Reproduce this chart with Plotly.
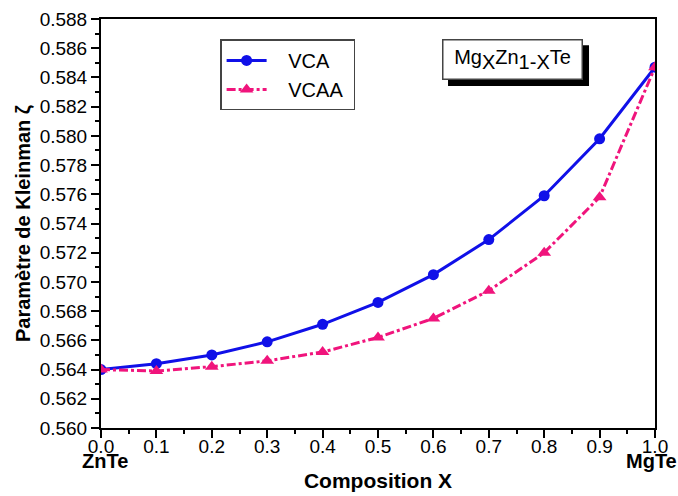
import plotly.graph_objects as go

# Composition x of Mg(x)Zn(1-x)Te and Kleinman internal-strain parameter
composition = [0.0, 0.1, 0.2, 0.3, 0.4, 0.5, 0.6, 0.7, 0.8, 0.9, 1.0]
zeta_vca = [0.5640, 0.5644, 0.5650, 0.5659, 0.5671, 0.5686, 0.5705, 0.5729, 0.5759, 0.5798, 0.5847]
zeta_vcaa = [0.5640, 0.5639, 0.5642, 0.5646, 0.5652, 0.5662, 0.5675, 0.5694, 0.5720, 0.5758, 0.5847]

x_ticks = [0.0, 0.1, 0.2, 0.3, 0.4, 0.5, 0.6, 0.7, 0.8, 0.9, 1.0]
y_ticks = [0.560, 0.562, 0.564, 0.566, 0.568, 0.570, 0.572, 0.574, 0.576,
           0.578, 0.580, 0.582, 0.584, 0.586, 0.588]

FONT = "Liberation Sans, Arial, sans-serif"
BLUE = "#1010e8"
PINK = "#f0147c"
PAD = "\u00a0\u00a0\u00a0"

fig = go.Figure()
fig.add_trace(go.Scatter(
    x=composition, y=zeta_vca, name=PAD + "VCA", mode="lines+markers",
    line=dict(color=BLUE, width=3),
    marker=dict(symbol="circle", size=11, color=BLUE),
))
fig.add_trace(go.Scatter(
    x=composition, y=zeta_vcaa, name=PAD + "VCAA\u00a0", mode="lines+markers",
    line=dict(color=PINK, width=3, dash="dashdot"),
    marker=dict(symbol="triangle-up", size=12, color=PINK),
))

axis_common = dict(
    showline=True, linecolor="black", linewidth=2, mirror=True,
    ticks="outside", ticklen=8, tickwidth=1.5, tickcolor="black",
    showgrid=False, zeroline=False, automargin=False,
    tickfont=dict(family=FONT, size=19, color="black"),
)

fig.update_xaxes(
    range=[0, 1], tickvals=x_ticks, ticktext=[f"{v:.1f}" for v in x_ticks],
    minor=dict(dtick=0.05, ticks="outside", ticklen=4, tickwidth=1.5, tickcolor="black"),
    title=dict(text="<b>Composition X</b>", font=dict(family=FONT, size=21, color="black"),
               standoff=18),
    ticklabelstandoff=-8,
    **axis_common,
)
fig.update_yaxes(
    range=[0.560, 0.588], tickvals=y_ticks, ticktext=[f"{v:.3f}" for v in y_ticks],
    minor=dict(dtick=0.001, ticks="outside", ticklen=4, tickwidth=1.5, tickcolor="black"),
    title=dict(text="<b>Paramètre de Kleinman ζ</b>", font=dict(family=FONT, size=20, color="black"),
               standoff=4),
    ticklabelstandoff=0,
    **axis_common,
)

# Endpoint compound names under the x axis
fig.add_annotation(x=0.0, y=0, xref="x", yref="paper", yshift=-20, xshift=4,
                   text="<b>ZnTe</b>", showarrow=False,
                   font=dict(family=FONT, size=20, color="black"),
                   xanchor="center", yanchor="top")
fig.add_annotation(x=1.0, y=0, xref="x", yref="paper", yshift=-20, xshift=-4,
                   text="<b>MgTe</b>", showarrow=False,
                   font=dict(family=FONT, size=20, color="black"),
                   xanchor="center", yanchor="top")

# Alloy label box with drop shadow
fig.add_shape(type="rect", xref="paper", yref="paper",
              x0=0.6264, x1=0.8809, y0=0.836, y1=0.936,
              fillcolor="black", line=dict(width=0), layer="above")
BIG = '<span style="font-size:20px">{}</span>'
fig.add_annotation(
    x=0.7428, y=0.901, xref="paper", yref="paper",
    text="Mg<sub>" + BIG.format("X") + "</sub>Zn<sub>" + BIG.format("1-X") + "</sub>Te",
    showarrow=False, font=dict(family=FONT, size=20, color="black"),
    bgcolor="white", bordercolor="#444", borderwidth=1.5,
    borderpad=5, width=128, height=28, xanchor="center", yanchor="middle",
)

fig.update_layout(
    width=678, height=496,
    margin=dict(l=101, r=23, t=19, b=68),
    paper_bgcolor="white", plot_bgcolor="white",
    showlegend=True,
    legend=dict(
        x=0.215, y=0.95, xanchor="left", yanchor="top",
        bgcolor="white", bordercolor="#444", borderwidth=1.5,
        font=dict(family=FONT, size=20, color="black"),
        itemwidth=40, tracegroupgap=0,
    ),
)

fig.write_html("out.html")
